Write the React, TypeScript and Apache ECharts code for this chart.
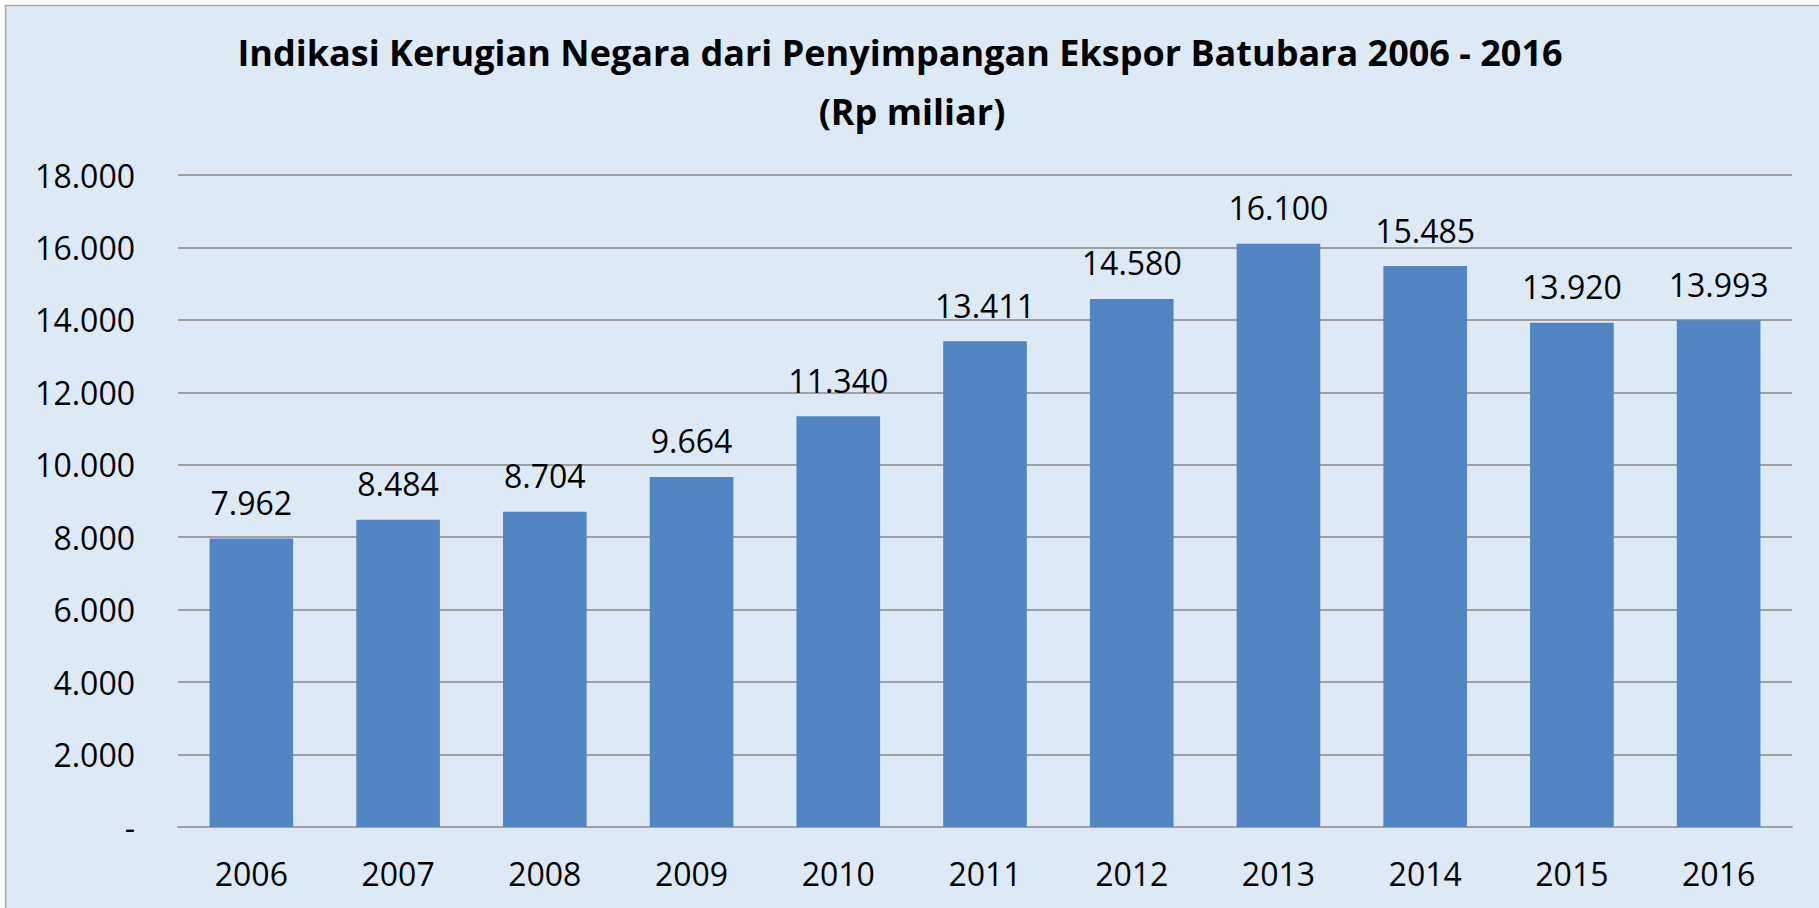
import React, { useEffect, useRef } from "react";
import * as echarts from "echarts";

const years = ["2006", "2007", "2008", "2009", "2010", "2011", "2012", "2013", "2014", "2015", "2016"];
const losses = [7962, 8484, 8704, 9664, 11340, 13411, 14580, 16100, 15485, 13920, 13993];
const titleLine1 = "Indikasi Kerugian Negara dari Penyimpangan Ekspor Batubara 2006 - 2016";
const titleLine2 = "(Rp miliar)";

const fmt = (v: number) => {
  if (v === 0) return "-";
  return String(Math.round(v)).replace(/\B(?=(\d{3})+(?!\d))/g, ".");
};

export default function App() {
  const ref = useRef<HTMLDivElement>(null);
  useEffect(() => {
    if (!ref.current) return;
    const chart = echarts.init(ref.current, null, { renderer: "svg" });
    const font = "'Open Sans', 'Noto Sans', sans-serif";
    const titleFont = "bold 36px 'Open Sans', 'Noto Sans', sans-serif";
    chart.setOption({
      animation: false,
      backgroundColor: "#ffffff",
      textStyle: { fontFamily: font },
      graphic: [
        {
          type: "rect",
          z: -10,
          silent: true,
          shape: { x: 5.5, y: 5.5, width: 1900, height: 1000 },
          style: { fill: "#dee9f6", stroke: "#a8a8a8", lineWidth: 1.5 },
        },
        {
          type: "text",
          silent: true,
          x: 900,
          y: 52,
          style: {
            text: titleLine1,
            font: titleFont,
            fill: "#000",
            textAlign: "center",
            textVerticalAlign: "middle",
          },
        },
        {
          type: "text",
          silent: true,
          x: 912,
          y: 111,
          style: {
            text: titleLine2,
            font: titleFont,
            fill: "#000",
            textAlign: "center",
            textVerticalAlign: "middle",
          },
        },
      ],
      grid: { left: 178, right: 27, top: 175, bottom: 81 },
      xAxis: {
        type: "category",
        data: years,
        axisTick: { show: false },
        axisLine: { show: true, lineStyle: { color: "#a0a0a0", width: 2 } },
        axisLabel: { color: "#000", fontSize: 32, margin: 30, fontFamily: font },
      },
      yAxis: {
        type: "value",
        min: 0,
        max: 18000,
        interval: 2000,
        axisLine: { show: false },
        axisTick: { show: false },
        splitLine: { lineStyle: { color: "#a0a0a0", width: 2 } },
        axisLabel: {
          color: "#000",
          fontSize: 32,
          margin: 43,
          fontFamily: font,
          formatter: (v: number) => fmt(v),
        },
      },
      series: [
        {
          type: "bar",
          data: losses,
          barCategoryGap: "43%",
          itemStyle: { color: "#5285c1" },
          label: {
            show: true,
            position: "top",
            distance: 20,
            color: "#000",
            fontSize: 32,
            fontFamily: font,
            formatter: (p: any) => fmt(p.value),
          },
        },
      ],
    });
    return () => chart.dispose();
  }, []);
  return (
    <div
      ref={ref}
      style={{ position: "absolute", left: 0, top: 0, width: 1819, height: 908 }}
    />
  );
}
